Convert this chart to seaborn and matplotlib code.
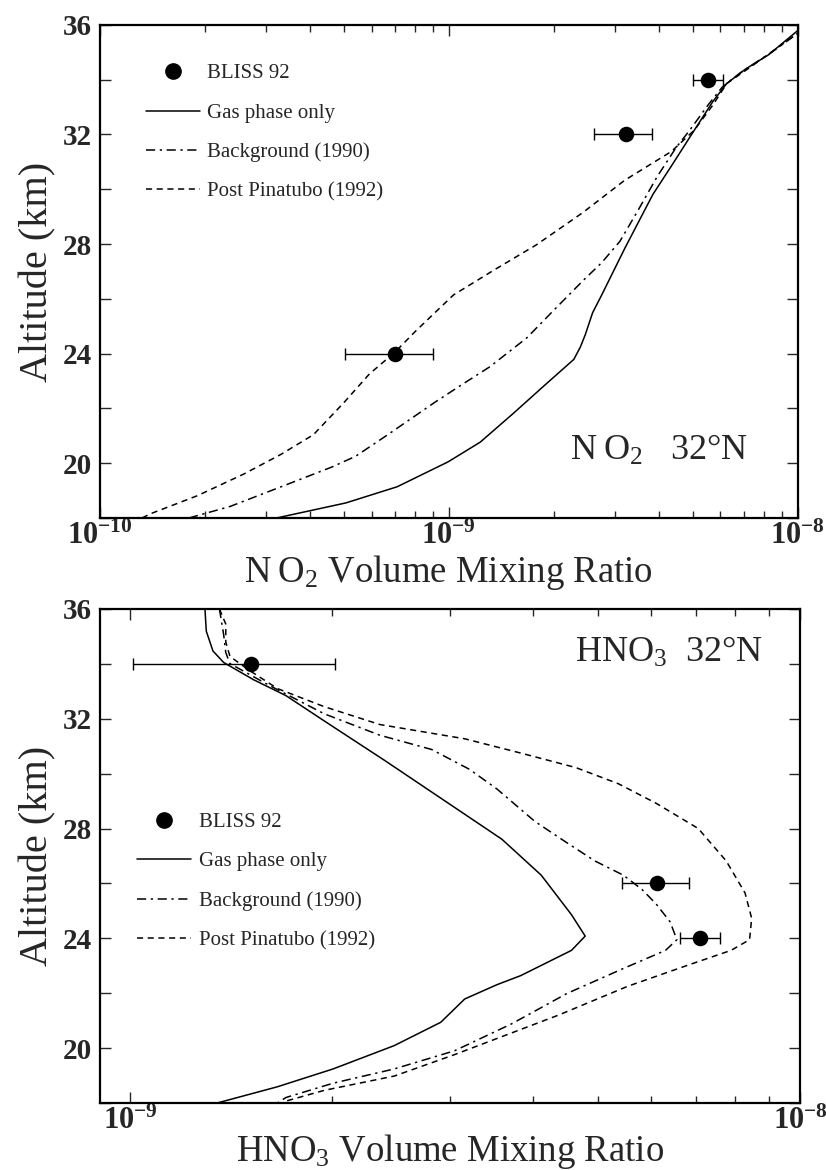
import numpy as np
import pandas as pd
import matplotlib
matplotlib.use('Agg')
import matplotlib.pyplot as plt
from matplotlib.lines import Line2D
from matplotlib.ticker import FixedLocator, FixedFormatter, LogLocator, NullFormatter
import seaborn as sns

# ---- NO2 panel (altitude in km, volume mixing ratio) ----
no2_gas_alt = [18.0, 18.55, 19.14, 20.05, 20.77, 21.82, 22.87, 23.79, 24.24, 24.70, 25.49,
               26.14, 27.84, 29.81, 30.85, 32.16, 33.21, 33.86, 34.39, 34.91, 35.8]
no2_gas_vmr = [3.21e-10, 5.07e-10, 7.11e-10, 9.95e-10, 1.23e-9, 1.53e-9, 1.89e-9, 2.28e-9, 2.38e-9,
               2.46e-9, 2.58e-9, 2.74e-9, 3.19e-9, 3.84e-9, 4.34e-9, 5.05e-9, 5.71e-9, 6.25e-9,
               7.08e-9, 8.24e-9, 1.0e-8]

no2_bg_alt = [18.0, 18.42, 19.2, 19.86, 20.25, 21.04, 22.21, 22.87, 23.52, 24.57, 25.62, 26.66,
              27.32, 28.10, 29.28, 30.46, 31.51, 32.16, 33.08, 33.73, 34.26, 35.04, 35.7]
no2_bg_vmr = [1.8e-10, 2.36e-10, 3.40e-10, 4.62e-10, 5.40e-10, 6.68e-10, 9.08e-10, 1.09e-9, 1.31e-9,
              1.67e-9, 2.01e-9, 2.42e-9, 2.74e-9, 3.09e-9, 3.50e-9, 3.95e-9, 4.47e-9, 4.90e-9,
              5.53e-9, 6.07e-9, 6.85e-9, 8.49e-9, 1.0e-8]

no2_pp_alt = [18.0, 18.16, 18.81, 19.60, 20.32, 21.04, 22.21, 23.26, 24.05, 24.83, 26.14, 27.06,
              27.97, 29.15, 30.33, 31.38, 32.16, 33.08, 33.86, 34.45, 35.7]
no2_pp_vmr = [1.32e-10, 1.40e-10, 1.90e-10, 2.58e-10, 3.30e-10, 4.09e-10, 5.00e-10, 5.92e-10,
              7.00e-10, 8.04e-10, 1.03e-9, 1.35e-9, 1.78e-9, 2.42e-9, 3.19e-9, 4.34e-9, 5.05e-9,
              5.71e-9, 6.25e-9, 7.29e-9, 1.0e-8]

no2_obs_alt = [34, 32, 24]
no2_obs_vmr = [5.53e-9, 3.21e-9, 7.0e-10]
no2_obs_lo = [5.0e-9, 2.6e-9, 5.03e-10]
no2_obs_hi = [6.12e-9, 3.81e-9, 9.0e-10]

# ---- HNO3 panel ----
hno3_gas_alt = [36.0, 35.19, 34.47, 34.05, 33.42, 32.84, 31.92, 30.48, 28.52, 27.61, 26.30, 24.86,
                24.08, 23.56, 22.64, 22.31, 21.79, 20.94, 20.09, 19.24, 18.59, 18.0]
hno3_gas_vmr = [1.294e-9, 1.30e-9, 1.33e-9, 1.38e-9, 1.53e-9, 1.71e-9, 1.95e-9, 2.40e-9, 3.16e-9,
                3.59e-9, 4.11e-9, 4.56e-9, 4.78e-9, 4.56e-9, 3.83e-9, 3.53e-9, 3.16e-9, 2.91e-9,
                2.48e-9, 2.01e-9, 1.66e-9, 1.35e-9]

hno3_bg_alt = [36.0, 35.06, 34.41, 34.01, 33.23, 32.18, 31.40, 30.88, 30.16, 29.44, 28.26, 27.48,
               26.82, 26.30, 25.78, 25.25, 24.60, 23.95, 23.56, 22.90, 21.99, 20.88, 19.90, 19.24,
               18.72, 18.2, 18.0]
hno3_bg_vmr = [1.36e-9, 1.38e-9, 1.39e-9, 1.41e-9, 1.61e-9, 1.95e-9, 2.36e-9, 2.82e-9, 3.21e-9,
               3.53e-9, 4.02e-9, 4.49e-9, 4.94e-9, 5.45e-9, 5.81e-9, 6.10e-9, 6.40e-9, 6.55e-9,
               6.30e-9, 5.45e-9, 4.49e-9, 3.71e-9, 3.05e-9, 2.48e-9, 2.01e-9, 1.71e-9, 1.66e-9]

hno3_pp_alt = [36.0, 35.45, 34.80, 34.27, 33.75, 33.10, 32.44, 31.79, 31.27, 30.75, 30.22, 29.63,
               28.92, 28.0, 26.82, 25.65, 24.73, 23.95, 23.56, 23.03, 22.25, 21.20, 20.55, 19.76,
               18.98, 18.46, 18.07, 18.0]
hno3_pp_vmr = [1.36e-9, 1.39e-9, 1.39e-9, 1.41e-9, 1.51e-9, 1.66e-9, 1.95e-9, 2.36e-9, 3.16e-9,
               3.83e-9, 4.63e-9, 5.36e-9, 6.10e-9, 7.05e-9, 7.76e-9, 8.28e-9, 8.47e-9, 8.41e-9,
               7.89e-9, 6.82e-9, 5.53e-9, 4.36e-9, 3.71e-9, 3.05e-9, 2.48e-9, 1.95e-9, 1.71e-9, 1.69e-9]

hno3_obs_alt = [34, 26, 24]
hno3_obs_vmr = [1.514e-9, 6.11e-9, 7.10e-9]
hno3_obs_lo = [1.01e-9, 5.42e-9, 6.61e-9]
hno3_obs_hi = [2.02e-9, 6.83e-9, 7.60e-9]

model_names = ['Gas phase only', 'Background (1990)', 'Post Pinatubo (1992)']
obs_name = 'BLISS 92'

sns.set_style('ticks')
plt.rcParams['font.family'] = ['Liberation Serif', 'DejaVu Serif']
plt.rcParams['mathtext.fontset'] = 'custom'
plt.rcParams['mathtext.rm'] = 'Liberation Serif'
plt.rcParams['mathtext.it'] = 'Liberation Serif:italic'
plt.rcParams['mathtext.bf'] = 'Liberation Serif:bold'

dash_map = {'Gas phase only': '',
            'Background (1990)': (6, 3, 1.5, 3),
            'Post Pinatubo (1992)': (4, 3)}


def make_frame(alts, vmrs):
    parts = []
    for name, a, v in zip(model_names, alts, vmrs):
        parts.append(pd.DataFrame({'alt': a, 'vmr': v, 'model': name}))
    return pd.concat(parts, ignore_index=True)


def draw_panel(ax, df, obs_alt, obs_vmr, obs_lo, obs_hi, xlim, xticks, xticklabels,
               xlabel, xlabelpad, title, title_xy, legend_anchor):
    sns.lineplot(data=df, x='vmr', y='alt', style='model', dashes=dash_map, color='k',
                 sort=False, estimator=None, linewidth=1.1, legend=False, ax=ax)
    obs_vmr = np.array(obs_vmr)
    xerr = [obs_vmr - np.array(obs_lo), np.array(obs_hi) - obs_vmr]
    ax.errorbar(obs_vmr, obs_alt, xerr=xerr, fmt='none', ecolor='k', elinewidth=1.0,
                capsize=4, capthick=1.0, zorder=3)
    sns.scatterplot(x=obs_vmr, y=obs_alt, color='k', s=125, edgecolor='k', linewidth=0,
                    zorder=4, ax=ax, legend=False)

    ax.set_xscale('log')
    ax.set_xlim(*xlim)
    ax.set_ylim(18, 36)
    ax.xaxis.set_major_locator(FixedLocator(xticks))
    ax.xaxis.set_major_formatter(FixedFormatter(xticklabels))
    ax.xaxis.set_minor_locator(LogLocator(base=10, subs=np.arange(2, 10)))
    ax.xaxis.set_minor_formatter(NullFormatter())
    ax.yaxis.set_major_locator(FixedLocator(np.arange(18, 37, 2)))
    ax.yaxis.set_major_formatter(FixedFormatter(['', '20', '', '24', '', '28', '', '32', '', '36']))
    ax.tick_params(which='both', direction='in', top=True, right=True, width=1.0)
    ax.tick_params(which='major', length=8)
    ax.tick_params(which='minor', length=5)
    ax.tick_params(axis='x', which='major', labelsize=22, pad=3)
    ax.tick_params(axis='y', which='major', labelsize=21, pad=6)
    for lab in ax.get_yticklabels():
        lab.set_fontweight('bold')
    for sp in ax.spines.values():
        sp.set_linewidth(1.6)
        sp.set_color('k')

    ax.set_xlabel(xlabel, fontsize=26.5, labelpad=xlabelpad)
    ax.set_ylabel('Altitude (km)', fontsize=29, labelpad=4)
    ax.text(title_xy[0], title_xy[1], title, transform=ax.transAxes, fontsize=26,
            ha='right', va='baseline')

    handles = [Line2D([], [], marker='o', ls='none', color='k', markersize=11)]
    for name in model_names:
        h = Line2D([], [], color='k', lw=1.1)
        if dash_map[name]:
            h.set_dashes(dash_map[name])
        handles.append(h)
    ax.legend(handles, [obs_name] + model_names, loc='upper left', bbox_to_anchor=legend_anchor,
              frameon=False, fontsize=15, borderpad=0, borderaxespad=0, handlelength=2.6,
              handletextpad=0.35, labelspacing=0.95)


fig = plt.figure(figsize=(8.26, 11.70), dpi=100)
ax1 = fig.add_axes([0.121, 0.5573, 0.845, 0.4214])
ax2 = fig.add_axes([0.121, 0.0573, 0.8475, 0.4222])

no2_df = make_frame([no2_gas_alt, no2_bg_alt, no2_pp_alt], [no2_gas_vmr, no2_bg_vmr, no2_pp_vmr])
hno3_df = make_frame([hno3_gas_alt, hno3_bg_alt, hno3_pp_alt],
                     [hno3_gas_vmr, hno3_bg_vmr, hno3_pp_vmr])

draw_panel(ax1, no2_df, no2_obs_alt, no2_obs_vmr, no2_obs_lo, no2_obs_hi,
           (1e-10, 1e-8), [1e-10, 1e-9, 1e-8],
           [r'$\mathbf{10^{-10}}$', r'$\mathbf{10^{-9}}$', r'$\mathbf{10^{-8}}$'],
           'N\u2009O$_2$ Volume Mixing Ratio', 1, 'N\u2009O$_2$   32°N', (0.928, 0.118),
           (0.066, 0.921))
draw_panel(ax2, hno3_df, hno3_obs_alt, hno3_obs_vmr, hno3_obs_lo, hno3_obs_hi,
           (9.02e-10, 1e-8), [1e-9, 1e-8],
           [r'$\mathbf{10^{-9}}$', r'$\mathbf{10^{-8}}$'],
           r'HNO$_3$ Volume Mixing Ratio', -3, r'HNO$_3$  32°N', (0.947, 0.893), (0.053, 0.588))

fig.savefig('out.png', dpi=100)
